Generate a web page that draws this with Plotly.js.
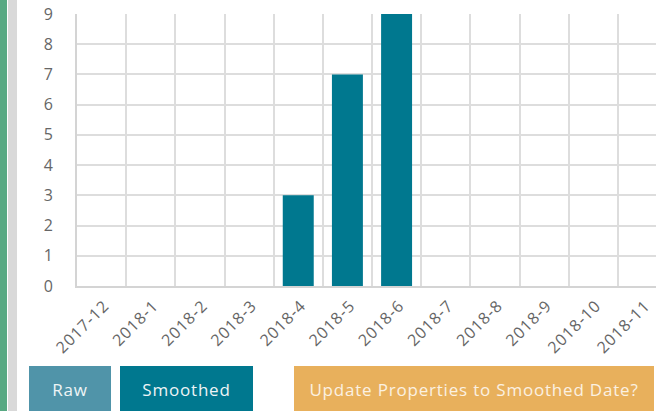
<!DOCTYPE html>
<html>
<head>
<meta charset="utf-8">
<script src="https://cdn.plot.ly/plotly-3.0.1.min.js"></script>
<style>
  html, body { margin: 0; padding: 0; width: 656px; height: 411px; overflow: hidden; background: #fff; }
  #stripeGreen { position: absolute; left: 0; top: 0; width: 7px; height: 411px; background: #58a983; }
  #stripeGray { position: absolute; left: 8px; top: 0; width: 9px; height: 411px; background: #d9d9d9; }
  #chart { position: absolute; left: 0; top: 0; width: 720px; height: 360px; }
  #chart .xtick text, #chart .ytick text { letter-spacing: 1px; }
  .btn { position: absolute; top: 366px; height: 48px; line-height: 48px; text-align: center;
         font-family: "Open Sans", Lato, sans-serif; font-size: 17px; letter-spacing: 0.8px; color: #eef4f6; }
  #btnRaw { left: 29px; width: 82px; background: #5094a9; }
  #btnSmooth { left: 120px; width: 133px; background: #00788f; }
  #btnUpdate { left: 294px; width: 360px; background: #e8b05c; color: #fbf1e2; }
</style>
</head>
<body>
<div id="stripeGreen"></div>
<div id="stripeGray"></div>
<div id="chart"></div>
<div class="btn" id="btnRaw">Raw</div>
<div class="btn" id="btnSmooth">Smoothed</div>
<div class="btn" id="btnUpdate">Update Properties to Smoothed Date?</div>
<script>
const categories = ["2017-12","2018-1","2018-2","2018-3","2018-4","2018-5","2018-6","2018-7","2018-8","2018-9","2018-10","2018-11"];
const counts = [0,0,0,0,3,7,9,0,0,0,0,0];
const yTicks = [0,1,2,3,4,5,6,7,8,9];

const data = [{
  type: 'bar',
  x: categories,
  y: counts,
  marker: { color: '#00788f', line: { width: 0 } },
  hoverinfo: 'none'
}];

const tickFont = { family: '"Open Sans", Lato, sans-serif', size: 16, color: '#666666' };

const layout = {
  width: 720, height: 360,
  margin: { l: 77, r: 53, t: 14, b: 74 },
  paper_bgcolor: 'rgba(0,0,0,0)',
  plot_bgcolor: '#ffffff',
  showlegend: false,
  bargap: 0.37,
  xaxis: {
    type: 'category',
    tickson: 'boundaries',
    showgrid: true, gridcolor: '#dddddd', gridwidth: 2,
    showline: true, linecolor: '#d4d4d4', linewidth: 2,
    ticks: '', tickangle: -45, tickfont: tickFont, ticklabelshift: 3, ticklabelstandoff: 2,
    zeroline: false, fixedrange: true
  },
  yaxis: {
    range: [0, 9],
    tickvals: yTicks,
    showgrid: true, gridcolor: '#dddddd', gridwidth: 2,
    showline: true, linecolor: '#d4d4d4', linewidth: 2,
    ticks: '', tickfont: tickFont, ticklabelstandoff: 18,
    zeroline: false, fixedrange: true
  }
};

Plotly.newPlot('chart', data, layout, { displayModeBar: false, staticPlot: true });
</script>
</body>
</html>
